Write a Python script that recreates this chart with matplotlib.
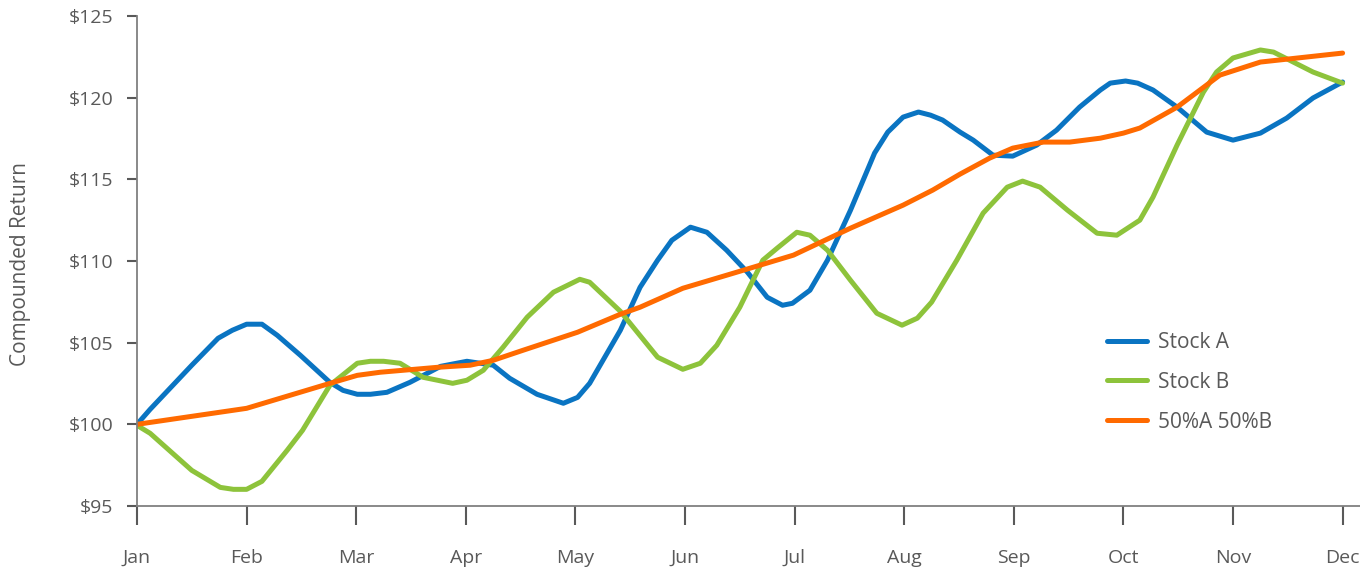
#!/usr/bin/env python3
import matplotlib
matplotlib.use("Agg")
import matplotlib.pyplot as plt

# Month axis: 0 = Jan ... 11 = Dec, each series sampled at its own points
months = ["Jan", "Feb", "Mar", "Apr", "May", "Jun", "Jul", "Aug", "Sep", "Oct", "Nov", "Dec"]

a_t = [0, 0.12, 0.50, 0.74, 0.87, 1.00, 1.14, 1.28, 1.49, 1.76, 1.88, 2.01, 2.13,
       2.28, 2.49, 2.77, 3.01, 3.25, 3.40, 3.65, 3.89, 4.02, 4.13, 4.41, 4.59,
       4.75, 4.88, 5.05, 5.20, 5.38, 5.57, 5.75, 5.89, 5.98, 6.14, 6.30, 6.51,
       6.73, 6.85, 6.99, 7.13, 7.24, 7.35, 7.51, 7.63, 7.81, 7.99, 8.21, 8.39,
       8.60, 8.79, 8.88, 9.02, 9.13, 9.27, 9.49, 9.76, 10.00, 10.25, 10.49,
       10.73, 11.0]
stock_a = [100.0, 100.92, 103.62, 105.27, 105.76, 106.13, 106.13, 105.45, 104.23,
           102.57, 102.08, 101.84, 101.84, 101.96, 102.57, 103.55, 103.86, 103.62,
           102.82, 101.84, 101.29, 101.65, 102.51, 105.76, 108.39, 110.05, 111.27,
           112.07, 111.76, 110.66, 109.31, 107.78, 107.29, 107.41, 108.21, 110.05,
           113.11, 116.61, 117.89, 118.81, 119.12, 118.93, 118.63, 117.89, 117.40,
           116.48, 116.42, 117.10, 118.01, 119.42, 120.47, 120.89, 121.02, 120.89,
           120.47, 119.42, 117.89, 117.40, 117.83, 118.75, 119.98, 120.96]

b_t = [0, 0.12, 0.50, 0.76, 0.88, 1.00, 1.14, 1.37, 1.51, 1.76, 2.01, 2.13, 2.25,
       2.40, 2.61, 2.88, 3.01, 3.16, 3.34, 3.56, 3.80, 4.04, 4.13, 4.41, 4.75,
       4.98, 5.14, 5.29, 5.50, 5.71, 5.84, 6.02, 6.14, 6.30, 6.51, 6.75, 6.98,
       7.12, 7.25, 7.48, 7.72, 7.94, 8.08, 8.24, 8.49, 8.76, 8.94, 9.15, 9.27,
       9.49, 9.73, 9.85, 10.00, 10.25, 10.37, 10.73, 11.0]
stock_b = [99.94, 99.45, 97.18, 96.14, 96.02, 96.02, 96.51, 98.41, 99.63, 102.39,
           103.74, 103.86, 103.86, 103.74, 102.88, 102.51, 102.70, 103.31, 104.72,
           106.56, 108.09, 108.88, 108.70, 106.92, 104.11, 103.37, 103.74, 104.84,
           107.17, 110.05, 110.78, 111.76, 111.58, 110.66, 108.82, 106.80, 106.07,
           106.50, 107.48, 110.05, 112.93, 114.52, 114.89, 114.52, 113.11, 111.70,
           111.58, 112.50, 113.91, 117.10, 120.34, 121.57, 122.43, 122.92, 122.79,
           121.57, 120.89]

mix_t = [0, 1.00, 1.76, 2.01, 2.22, 2.74, 3.04, 3.25, 3.52, 4.02, 4.41, 4.59,
         4.98, 5.44, 5.99, 6.51, 6.99, 7.26, 7.51, 7.78, 7.99, 8.27, 8.51, 8.79,
         9.00, 9.15, 9.49, 9.88, 10.25, 11.0]
blend = [100.0, 100.98, 102.51, 103.00, 103.19, 103.49, 103.62, 103.92, 104.53,
         105.64, 106.74, 107.17, 108.33, 109.25, 110.36, 112.01, 113.42, 114.34,
         115.32, 116.30, 116.91, 117.28, 117.28, 117.52, 117.83, 118.14, 119.42,
         121.38, 122.18, 122.73]

y_ticks = [95, 100, 105, 110, 115, 120, 125]

plt.rcParams["font.family"] = ["Open Sans", "DejaVu Sans"]
text_color = "#595959"
axis_color = "#808080"

fig = plt.figure(figsize=(13.6, 5.68), dpi=100)
ax = fig.add_axes([137 / 1360, 1 - 506 / 568, 1 - 137 / 1360, 490 / 568])

line_kw = dict(linewidth=3.6, solid_joinstyle="round", solid_capstyle="round")
ax.plot(a_t, stock_a, color="#0A74C2", label="Stock A", **line_kw)
ax.plot(b_t, stock_b, color="#8DC33B", label="Stock B", **line_kw)
ax.plot(mix_t, blend, color="#FF6A00", label="50%A 50%B", **line_kw)

ax.set_xlim(0, (1360 - 137) / 109.6)
ax.set_ylim(95, 125)
ax.set_xticks(range(len(months)))
ax.set_xticklabels(months)
ax.set_yticks(y_ticks)
ax.set_yticklabels([f"${v}" for v in y_ticks])

for side in ["top", "right"]:
    ax.spines[side].set_visible(False)
for side in ["left", "bottom"]:
    ax.spines[side].set_color(axis_color)
    ax.spines[side].set_linewidth(1.3)

ax.tick_params(axis="x", direction="out", length=14, width=1.5, color="#595959",
               labelsize=14, labelcolor=text_color, pad=17)
ax.tick_params(axis="y", direction="out", length=7, width=1.5, color="#595959",
               labelsize=14, labelcolor=text_color, pad=10)

fig.text(21 / 1360, 1 - 264 / 568, "Compounded Return", rotation=90,
         ha="center", va="center", fontsize=15, color=text_color)

leg = ax.legend(loc="upper left", bbox_to_anchor=(1107 / 1360, 1 - 332 / 568),
                bbox_transform=fig.transFigure, frameon=False, fontsize=15,
                handlelength=1.9, handletextpad=0.55, labelspacing=0.9,
                borderpad=0, borderaxespad=0)
for t in leg.get_texts():
    t.set_color(text_color)

fig.savefig("out.png", dpi=100)
